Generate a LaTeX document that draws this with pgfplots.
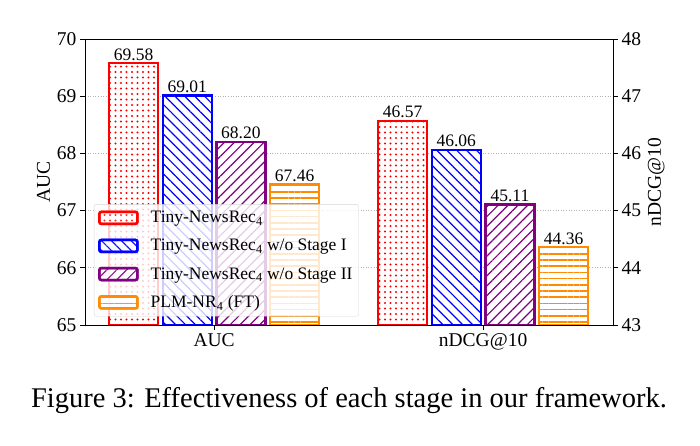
\documentclass[border=0pt]{standalone}
\usepackage{fontspec}
\setmainfont{Liberation Serif}
\usepackage{pgfplots}
\pgfplotsset{compat=1.18}
\usetikzlibrary{patterns.meta}
\definecolor{cred}{RGB}{255,0,0}
\definecolor{cblue}{RGB}{0,0,255}
\definecolor{cpurple}{RGB}{128,0,128}
\definecolor{corange}{RGB}{255,140,0}
\pgfplotsset{
  redbar/.style={draw=cred, fill=white, line width=2.5pt, postaction={pattern color=cred, pattern={Dots[distance=5.5pt,radius=1.1pt]}}},
  bluebar/.style={draw=cblue, fill=white, line width=2.5pt, postaction={pattern color=cblue, pattern={Lines[angle=-45,distance=7pt,line width=1.2pt]}}},
  purplebar/.style={draw=cpurple, fill=white, line width=2.5pt, postaction={pattern color=cpurple, pattern={Lines[angle=45,distance=7pt,line width=1.2pt]}}},
  orangebar/.style={draw=corange, fill=white, line width=2.5pt, postaction={pattern color=corange, pattern={Lines[angle=0,distance=6.2pt,line width=1.7pt]}}},
  common/.style={
    scale only axis, width=528pt, height=286pt,
    at={(85pt,121pt)}, anchor=south west,
    xmin=-0.48, xmax=1.483,
    ybar, bar width=49pt,
    tick align=outside, major tick length=5pt,
    tick style={black, line width=0.8pt},
    axis line style={line width=0.9pt},
    /pgf/number format/assume math mode=true,
    ticklabel style={font=\fontsize{19.5}{19.5}\selectfont},
    label style={font=\fontsize{19.5}{19.5}\selectfont},
    nodes near coords={\pgfmathprintnumber[fixed,fixed zerofill,precision=2]{\pgfplotspointmeta}},
    every node near coord/.append style={font=\fontsize{17.5}{17.5}\selectfont, black, inner sep=1.5pt},
  },
}
\begin{document}
\begin{tikzpicture}
\path[use as bounding box] (0,0) rectangle (700pt,446pt);
\begin{axis}[common,
  ymin=65, ymax=70, ytick={65,66,67,68,69,70},
  xtick={0,1}, xticklabels={AUC,nDCG@10},
  xtick pos=bottom, ytick pos=left,
  ymajorgrids, grid style={gray!60, dash pattern=on 1pt off 1.6pt, line width=0.8pt},
  ylabel={AUC},
  legend style={at={(0.017,0.03)}, anchor=south west, draw=gray!35, fill=white, fill opacity=0.8, draw opacity=0.9, text opacity=1, rounded corners=2pt, font=\fontsize{17.5}{17.5}\selectfont, row sep=11pt, inner xsep=4pt, inner ysep=5pt,
    /tikz/every odd column/.append style={column sep=10pt}},
  legend cell align=left,
  legend image code/.code={\draw[#1] (0pt,-6pt) rectangle (38pt,6pt);},
]
\addplot[redbar, bar shift=-80.5pt] coordinates {(0,69.58)};
\addplot[bluebar, bar shift=-26.8pt] coordinates {(0,69.01)};
\addplot[purplebar, bar shift=26.8pt] coordinates {(0,68.20)};
\addplot[orangebar, bar shift=80.5pt] coordinates {(0,67.46)};
\legend{Tiny-NewsRec\textsubscript{4}, Tiny-NewsRec\textsubscript{4} w/o Stage I, Tiny-NewsRec\textsubscript{4} w/o Stage II, PLM-NR\textsubscript{4} (FT)}
\end{axis}
\begin{axis}[common,
  ymin=43, ymax=48, ytick={43,44,45,46,47,48},
  axis y line*=right, axis x line=none,
  ylabel={nDCG@10},
]
\addplot[redbar, bar shift=-80.5pt] coordinates {(1,46.57)};
\addplot[bluebar, bar shift=-26.8pt] coordinates {(1,46.06)};
\addplot[purplebar, bar shift=26.8pt] coordinates {(1,45.11)};
\addplot[orangebar, bar shift=80.5pt] coordinates {(1,44.36)};
\end{axis}
\node[font=\fontsize{28.5}{28.5}\selectfont] at (349pt,45pt) {Figure 3: Effectiveness of each stage in our framework.};
\end{tikzpicture}
\end{document}
